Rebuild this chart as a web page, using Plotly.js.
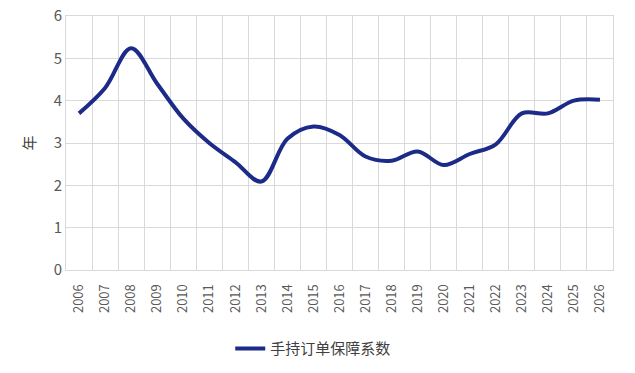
<!DOCTYPE html>
<html>
<head>
<meta charset="utf-8">
<script src="https://cdn.plot.ly/plotly-3.0.1.min.js"></script>
<style>html,body{margin:0;padding:0;background:#fff;}#chart{width:635px;height:373px;}</style>
</head>
<body>
<div id="chart"></div>
<script>
const years = ["2006","2007","2008","2009","2010","2011","2012","2013","2014","2015","2016","2017","2018","2019","2020","2021","2022","2023","2024","2025","2026"];
const coverage = [3.7, 4.3, 5.24, 4.4, 3.58, 3.0, 2.55, 2.09, 3.1, 3.39, 3.19, 2.68, 2.58, 2.8, 2.48, 2.74, 2.97, 3.7, 3.7, 4.0, 4.02];
const seriesName = "手持订单保障系数";
const yTitle = "年";

const font = "'Noto Sans CJK SC', 'Noto Sans', sans-serif";
Plotly.newPlot("chart", [{
  x: years, y: coverage, type: "scatter", mode: "lines", name: seriesName,
  line: {color: "#1c2a88", width: 4, shape: "spline", smoothing: 1}
}], {
  width: 635, height: 373,
  margin: {l: 66, r: 22, t: 16, b: 103, autoexpand: false},
  paper_bgcolor: "#fff", plot_bgcolor: "#fff",
  font: {family: font, color: "#595959", size: 13},
  showlegend: true,
  legend: {orientation: "h", x: 0.452, xanchor: "center", y: -0.31, yanchor: "middle",
    font: {size: 15, color: "#404040"}},
  xaxis: {type: "category", range: [-0.5, 20.5], tickson: "boundaries", showgrid: true,
    gridcolor: "#d9d9d9", gridwidth: 1, tickangle: -90, ticks: "", showline: true,
    ticklabelstandoff: 8,
    linecolor: "#d9d9d9", mirror: true, tickfont: {size: 13, color: "#595959"}, fixedrange: true},
  yaxis: {range: [0, 6], dtick: 1, showgrid: true, gridcolor: "#d9d9d9", zeroline: false,
    showline: true, linecolor: "#d9d9d9", mirror: true, ticks: "",
    tickfont: {size: 15, color: "#595959"},
    title: {text: yTitle, font: {size: 15, color: "#404040"}, standoff: 14}}
}, {staticPlot: true});
</script>
</body>
</html>
